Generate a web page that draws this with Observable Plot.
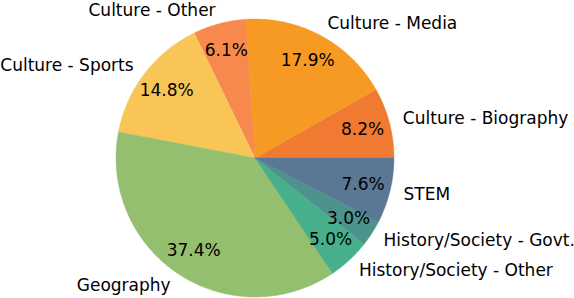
<!DOCTYPE html>
<html>
<head>
<meta charset="utf-8">
<script src="https://cdn.jsdelivr.net/npm/d3@7"></script>
<script src="https://cdn.jsdelivr.net/npm/@observablehq/plot@0.6"></script>
<style>
  html, body { margin: 0; padding: 0; background: #fff; }
  svg { display: block; }
</style>
</head>
<body>
<div id="chart"></div>
<script>
const categories = ["Culture - Biography", "Culture - Media", "Culture - Other", "Culture - Sports",
  "Geography", "History/Society - Other", "History/Society - Govt.", "STEM"];
const shares = [8.2, 17.9, 6.1, 14.8, 37.4, 5.0, 3.0, 7.6];
const colors = ["#F07A32", "#F69A24", "#F7884E", "#F8C556", "#94BF6E", "#48AF8C", "#4D938D", "#5A7893"];

const W = 574, H = 298;
const cx = 254.5, cy = 157.5, R = 139;
const total = d3.sum(shares);

// wedge geometry (matplotlib style: start at 0 rad, counterclockwise)
const slices = [];
let cum = 0;
categories.forEach((c, i) => {
  const a0 = cum / total * 2 * Math.PI;
  cum += shares[i];
  const a1 = cum / total * 2 * Math.PI;
  slices.push({label: c, value: shares[i], a0, a1, mid: (a0 + a1) / 2, i});
});

const outline = [];
for (const s of slices) {
  outline.push({label: s.label, x: 0, y: 0});
  const n = Math.max(2, Math.ceil((s.a1 - s.a0) / 0.01));
  for (let k = 0; k <= n; k++) {
    const a = s.a0 + (s.a1 - s.a0) * k / n;
    outline.push({label: s.label, x: Math.cos(a), y: Math.sin(a)});
  }
  outline.push({label: s.label, x: 0, y: 0});
}

const labels = slices.map(s => ({
  label: s.label,
  x: 1.1 * Math.cos(s.mid), y: 1.1 * Math.sin(s.mid)
}));
const pcts = slices.map(s => ({
  text: s.value.toFixed(1) + "%",
  x: 0.8 * Math.cos(s.mid), y: 0.8 * Math.sin(s.mid)
}));

const FS = 17;
const chart = Plot.plot({
  width: W, height: H,
  margin: 0,
  style: {fontFamily: "DejaVu Sans", background: "#fff"},
  x: {domain: [-cx / R, (W - cx) / R], axis: null},
  y: {domain: [-(H - cy) / R, cy / R], axis: null},
  color: {domain: categories, range: colors},
  marks: [
    Plot.line(outline, {x: "x", y: "y", z: "label", fill: "label", stroke: "label", strokeWidth: 0.4, curve: "linear"}),
    Plot.text(labels.filter(d => d.x >= 0), {x: "x", y: "y", text: "label", textAnchor: "start", fontSize: FS, fill: "black"}),
    Plot.text(labels.filter(d => d.x < 0), {x: "x", y: "y", text: "label", textAnchor: "end", fontSize: FS, fill: "black"}),
    Plot.text(pcts, {x: "x", y: "y", text: "text", textAnchor: "middle", fontSize: FS, fill: "black"})
  ]
});
document.getElementById("chart").appendChild(chart);
</script>
</body>
</html>
